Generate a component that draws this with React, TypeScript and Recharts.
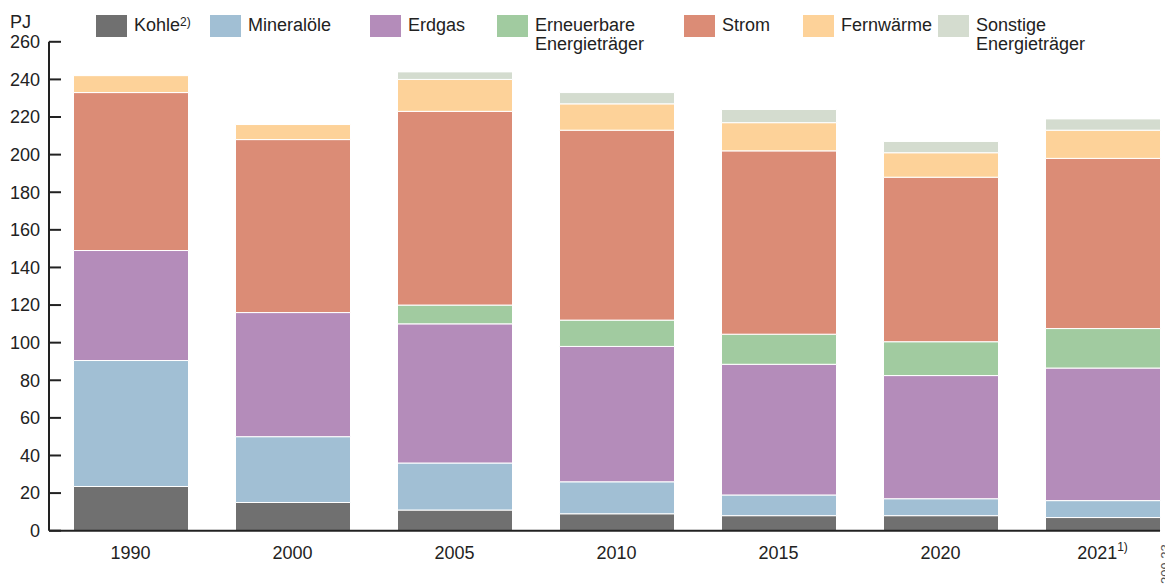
import { BarChart, Bar, XAxis, YAxis } from 'recharts';

// PJ per energy carrier
const years = ['1990', '2000', '2005', '2010', '2015', '2020', '2021'];
const kohle = [23.5, 15, 11, 9, 8, 8, 7];
const mineraloele = [67, 35, 25, 17, 11, 9, 9];
const erdgas = [58.5, 66, 74, 72, 69.5, 65.5, 70.5];
const erneuerbare = [0, 0, 10, 14, 16, 18, 21];
const strom = [84, 92, 103, 101, 97.5, 87.5, 90.5];
const fernwaerme = [9, 8, 17, 14, 15, 13, 15];
const sonstige = [0, 0, 4, 6, 7, 6, 6];
const yTicks = [0, 20, 40, 60, 80, 100, 120, 140, 160, 180, 200, 220, 240, 260];

const series = [
  { key: 'kohle', label: ['Kohle'], sup: '2)', color: '#707070', x: 96 },
  { key: 'mineraloele', label: ['Mineralöle'], color: '#a1bfd4', x: 210 },
  { key: 'erdgas', label: ['Erdgas'], color: '#b48cba', x: 370 },
  { key: 'erneuerbare', label: ['Erneuerbare', 'Energieträger'], color: '#a1cba0', x: 497 },
  { key: 'strom', label: ['Strom'], color: '#db8c76', x: 684 },
  { key: 'fernwaerme', label: ['Fernwärme'], color: '#fdd299', x: 803 },
  { key: 'sonstige', label: ['Sonstige', 'Energieträger'], color: '#d4dccf', x: 938 },
];

const data = years.map((year, i) => ({
  year,
  kohle: kohle[i],
  mineraloele: mineraloele[i],
  erdgas: erdgas[i],
  erneuerbare: erneuerbare[i],
  strom: strom[i],
  fernwaerme: fernwaerme[i],
  sonstige: sonstige[i],
}));

const FONT = '"Liberation Sans", Arial, sans-serif';
const TEXT = '#222';

const YTick = ({ x, y, payload }: any) => (
  <g>
    <line x1={x} x2={x + 12} y1={y} y2={y} stroke="#222" strokeWidth={2} />
    <text x={x - 9} y={y} dy="0.35em" textAnchor="end" fontSize={18} fill={TEXT} fontFamily={FONT}>
      {payload.value}
    </text>
  </g>
);

const XTick = ({ x, y, payload }: any) => (
  <text x={x} y={y} dy="0.71em" textAnchor="middle" fontSize={18} fill={TEXT} fontFamily={FONT}>
    {payload.value}
    {payload.value === '2021' && (
      <tspan fontSize={12} dy={-8}>1)</tspan>
    )}
  </text>
);

export default function App() {
  return (
    <div style={{ position: 'relative', width: 1165, height: 578, fontFamily: FONT, color: TEXT }}>
      <div style={{ position: 'absolute', left: 2, top: 5, fontSize: 18, lineHeight: '19px' }}>PJ</div>
      {series.map(s => (
        <div key={s.key}>
          <div
            style={{
              position: 'absolute',
              left: s.x - 8,
              top: 7,
              width: 31,
              height: 22,
              background: s.color,
            }}
          />
          <div
            style={{
              position: 'absolute',
              left: s.x - 8 + 38,
              top: 8,
              fontSize: 18,
              lineHeight: '19px',
              whiteSpace: 'nowrap',
            }}
          >
            {s.label.map((l, i) => (
              <div key={i}>
                {l}
                {s.sup && i === 0 && <sup style={{ fontSize: 12, verticalAlign: 'top', lineHeight: '12px' }}>{s.sup}</sup>}
              </div>
            ))}
          </div>
        </div>
      ))}
      <div
        style={{
          position: 'absolute',
          left: 1151,
          top: 576,
          transform: 'rotate(-90deg)',
          transformOrigin: '0 0',
          fontSize: 13,
          color: '#555',
          whiteSpace: 'nowrap',
          lineHeight: '13px',
        }}
      >
        209 23
      </div>
      <BarChart
        width={1165}
        height={578}
        data={data}
        margin={{ top: 33.8, right: 13, left: 0, bottom: 0 }}
        barSize={115}
        style={{ position: 'absolute', left: 0, top: 0 }}
      >
        <XAxis
          dataKey="year"
          height={55.3}
          padding={{ left: 0.5, right: -23.5 }}
          axisLine={{ stroke: '#222', strokeWidth: 2 }}
          tickLine={false}
          tickSize={0}
          tickMargin={16}
          tick={<XTick />}
          interval={0}
        />
        <YAxis
          width={41}
          domain={[0, 260]}
          ticks={yTicks}
          interval={0}
          axisLine={{ stroke: '#222', strokeWidth: 2 }}
          tickLine={false}
          tickSize={0}
          tickMargin={0}
          tick={<YTick />}
        />
        {series.map(s => (
          <Bar
            key={s.key}
            dataKey={s.key}
            stackId="a"
            fill={s.color}
            stroke="#fff"
            strokeWidth={1}
            isAnimationActive={false}
          />
        ))}
      </BarChart>
    </div>
  );
}
